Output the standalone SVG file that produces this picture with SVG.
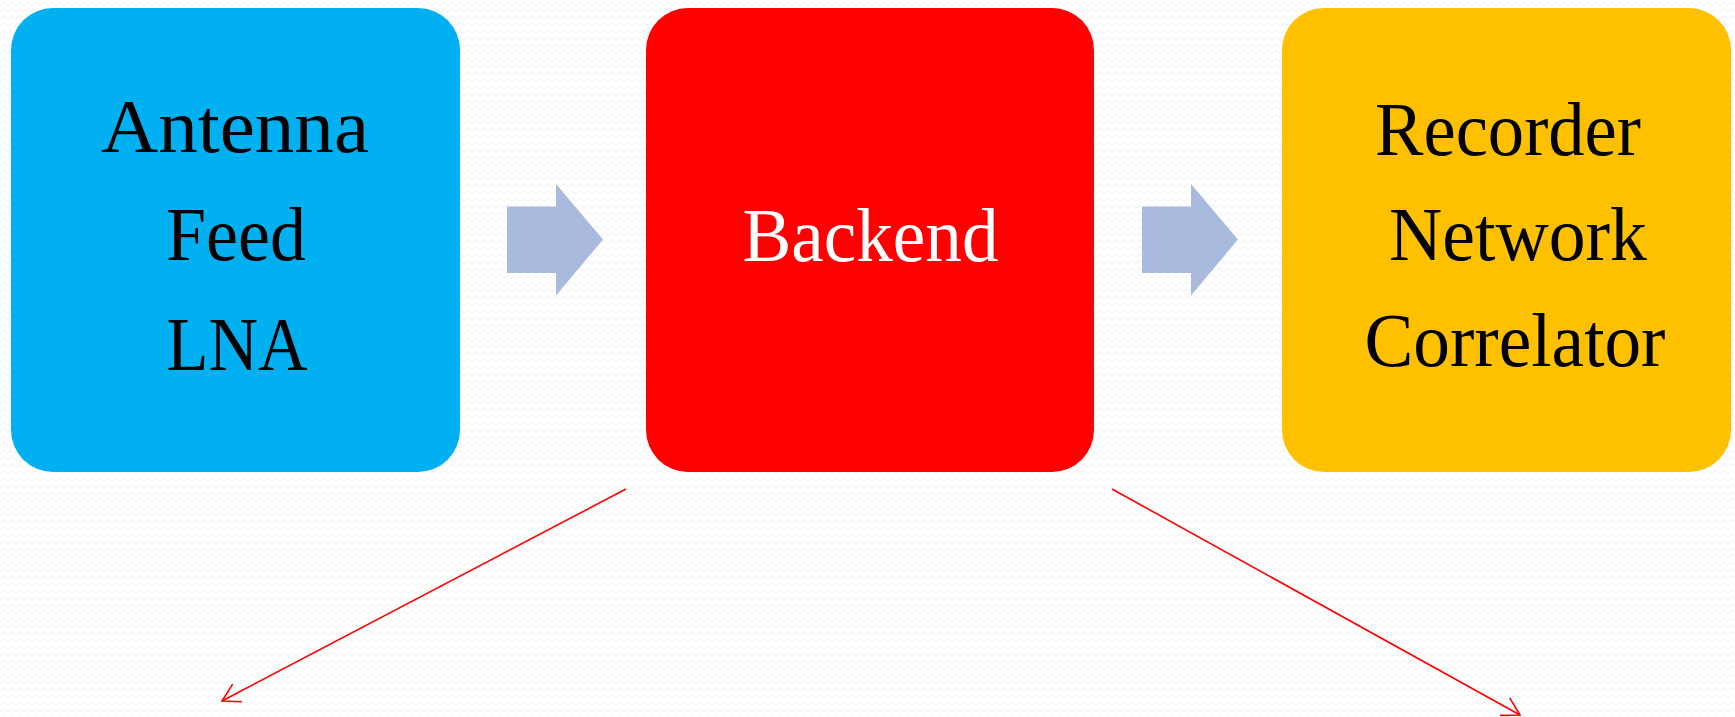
<svg xmlns="http://www.w3.org/2000/svg" width="1735" height="717" viewBox="0 0 1735 717">
<style>
.lbl{font-family:"Liberation Serif","Times New Roman",serif;font-size:76px;text-anchor:middle;fill:#000}
.wht{fill:#fff}
.blk{fill:#A9BADF}
.con{stroke:#FF0000;stroke-width:1.6;fill:none}
</style>
<defs>
<pattern id="bg" width="8" height="7" patternUnits="userSpaceOnUse">
<rect width="8" height="7" fill="#ffffff"/>
<path d="M0,5 L4,2 L8,5" stroke="#f1f1f1" stroke-width="1" fill="none"/>
</pattern>
<marker id="ah" viewBox="-20 -12 22 24" refX="0" refY="0" markerWidth="22" markerHeight="24" markerUnits="userSpaceOnUse" orient="auto">
<path d="M-17.3,-10 L0,0 L-17.3,10" stroke="#FF0000" stroke-width="1.6" fill="none"/>
</marker>
</defs>
<rect width="1735" height="717" fill="url(#bg)"/>
<g id="node-antenna">
<rect x="11" y="8" width="449" height="464" rx="42" ry="42" fill="#00B0F0"/>
<text class="lbl" x="235" y="152" textLength="268" lengthAdjust="spacingAndGlyphs">Antenna</text>
<text class="lbl" x="236" y="260" textLength="140" lengthAdjust="spacingAndGlyphs">Feed</text>
<text class="lbl" x="237" y="370" textLength="141" lengthAdjust="spacingAndGlyphs">LNA</text>
</g>
<g id="node-backend">
<rect x="646" y="8" width="448" height="464" rx="42" ry="42" fill="#FF0000"/>
<text class="lbl wht" x="870.5" y="261" textLength="256" lengthAdjust="spacingAndGlyphs">Backend</text>
</g>
<g id="node-recorder">
<rect x="1282" y="8" width="449" height="464" rx="42" ry="42" fill="#FFC000"/>
<text class="lbl" x="1508" y="155" textLength="266" lengthAdjust="spacingAndGlyphs">Recorder</text>
<text class="lbl" x="1518" y="260" textLength="258" lengthAdjust="spacingAndGlyphs">Network</text>
<text class="lbl" x="1515" y="366" textLength="301" lengthAdjust="spacingAndGlyphs">Correlator</text>
</g>
<g id="connectors">
<polygon class="blk" points="507,206.5 556,206.5 556,184 603,239.5 556,295.5 556,273 507,273"/>
<polygon class="blk" points="1142,206.5 1191,206.5 1191,184 1238,239.5 1191,295.5 1191,273 1142,273"/>
<line class="con" x1="626" y1="489" x2="222" y2="701" marker-end="url(#ah)"/>
<line class="con" x1="1112" y1="489" x2="1520" y2="715" marker-end="url(#ah)"/>
</g>
</svg>
